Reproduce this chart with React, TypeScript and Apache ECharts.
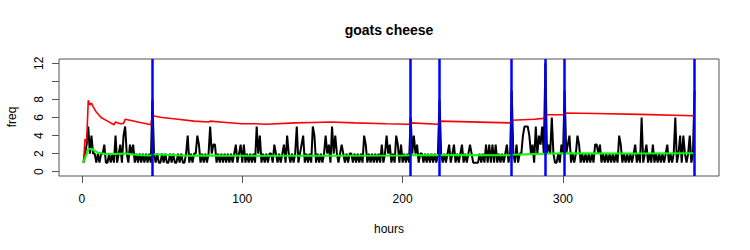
import React, { useEffect, useRef } from "react";
import * as echarts from "echarts";

const FONT = "'Liberation Sans', Arial, Helvetica, sans-serif";

const chartTitle = "goats cheese";
const xLabel = "hours";
const yLabel = "freq";

const xTicks = [0, 100, 200, 300];
const yTicks = [0, 2, 4, 6, 8, 10, 12];
const yTickLabels = [0, 2, 4, 6, 8, 12];

// hourly frequency, hours 1..382
const freq = [
  1, 2, 3, 5, 2, 4, 2, 2, 1, 2,
  1, 2, 2, 3, 1, 1, 2, 1, 2, 1,
  4, 1, 2, 3, 1, 4, 5, 2, 1, 3,
  2, 3, 1, 2, 1, 2, 1, 2, 1, 2,
  1, 2, 1, 8, 2, 1, 2, 1, 1, 2,
  1, 2, 1, 1, 2, 1, 2, 1, 1, 2,
  1, 2, 1, 1, 2, 4, 1, 2, 1, 2,
  2, 4, 3, 1, 2, 1, 2, 1, 2, 5,
  2, 3, 3, 1, 2, 1, 2, 1, 2, 1,
  2, 1, 2, 1, 2, 3, 1, 2, 3, 1,
  3, 1, 2, 1, 2, 1, 2, 1, 5, 2,
  4, 1, 2, 1, 2, 1, 2, 2, 1, 3,
  2, 1, 2, 1, 2, 3, 1, 4, 2, 1,
  2, 1, 2, 5, 1, 2, 3, 4, 1, 2,
  1, 2, 1, 5, 4, 1, 2, 1, 2, 1,
  2, 4, 2, 3, 1, 5, 2, 4, 2, 1,
  2, 3, 2, 1, 2, 1, 2, 2, 1, 2,
  1, 2, 1, 2, 1, 4, 3, 1, 2, 1,
  2, 1, 2, 1, 2, 1, 3, 1, 2, 4,
  2, 3, 1, 2, 1, 4, 3, 1, 3, 1,
  2, 1, 2, 1, 6, 2, 4, 2, 3, 1,
  2, 2, 1, 2, 1, 2, 1, 2, 1, 2,
  1, 2, 8, 2, 1, 2, 1, 2, 3, 1,
  2, 3, 1, 2, 1, 2, 3, 1, 2, 1,
  2, 3, 2, 1, 1, 1, 1, 2, 1, 2,
  1, 3, 1, 3, 1, 3, 1, 3, 1, 2,
  1, 2, 1, 2, 3, 1, 2, 9, 2, 1,
  3, 1, 2, 2, 4, 5, 5, 5, 4, 2,
  3, 1, 5, 2, 4, 3, 5, 2, 12, 2,
  3, 2, 6, 2, 1, 1, 2, 1, 3, 2,
  9, 2, 3, 4, 1, 2, 1, 2, 4, 3,
  1, 2, 1, 2, 1, 2, 1, 2, 1, 3,
  3, 2, 3, 1, 2, 1, 2, 1, 2, 1,
  2, 1, 2, 1, 4, 3, 1, 2, 1, 2,
  1, 2, 1, 2, 3, 1, 2, 1, 6, 1,
  2, 3, 1, 2, 1, 3, 1, 2, 1, 2,
  1, 2, 1, 2, 3, 1, 2, 1, 2, 6,
  1, 2, 4, 1, 4, 2, 1, 2, 4, 1, 2, 9,
];

// threshold line (red), [hour, value]
const thresholdPts: [number, number][] = [
  [1, 1.0], [2, 3.6], [3, 3.3], [4, 7.9], [5, 7.4], [6, 7.6], [7, 7.2],
  [9, 6.6], [12, 6.0], [16, 5.6], [20, 5.2], [21, 5.5], [24, 5.3],
  [26, 5.35], [27, 5.8], [30, 5.7], [35, 5.5], [43, 5.2], [44, 6.2],
  [50, 6.0], [60, 5.8], [70, 5.6], [79, 5.5], [80, 5.6], [90, 5.45],
  [100, 5.3], [108, 5.3], [115, 5.25], [133, 5.4], [144, 5.45],
  [155, 5.5], [170, 5.4], [190, 5.3], [204, 5.25], [205, 5.4],
  [222, 5.25], [223, 5.6], [267, 5.4], [268, 5.7], [282, 5.8],
  [288, 5.9], [289, 6.3], [300, 6.3], [301, 6.5], [320, 6.45],
  [348, 6.35], [381, 6.2], [382, 6.45],
];

// running mean (green), [hour, value]
const meanPts: [number, number][] = [
  [1, 1.0], [2, 1.5], [3, 2.0], [4, 2.5], [5, 2.5], [6, 2.55], [8, 2.3],
  [10, 2.1], [15, 1.95], [20, 1.95], [27, 2.0], [35, 1.85], [43, 1.8],
  [44, 1.95], [55, 1.85], [66, 1.75], [80, 1.8], [100, 1.77],
  [150, 1.75], [200, 1.78], [205, 1.82], [223, 1.85], [267, 1.82],
  [268, 1.88], [289, 1.98], [301, 2.03], [340, 2.02], [382, 2.03],
];

// flagged hours (blue verticals)
const alertHours = [44, 205, 223, 268, 289, 301, 382];

export default function App() {
  const ref = useRef<HTMLDivElement>(null);
  useEffect(() => {
    if (!ref.current) return;
    const chart = echarts.init(ref.current, null, { renderer: "svg" });
    const axisColor = "#555";
    chart.setOption({
      animation: false,
      backgroundColor: "#ffffff",
      grid: {
        left: 59,
        top: 59,
        width: 660,
        height: 117,
        outerBoundsMode: "none",
        show: true,
        borderColor: axisColor,
        borderWidth: 1,
        backgroundColor: "transparent",
      },
      xAxis: {
        type: "value",
        min: -14.24,
        max: 397.24,
        splitLine: { show: false },
        axisLine: { show: false, onZero: false },
        axisTick: {
          show: true,
          length: 7,
          lineStyle: { color: axisColor },
          customValues: xTicks,
        },
        axisLabel: {
          customValues: xTicks,
          margin: 17,
          fontSize: 12,
          color: "#000",
          fontFamily: FONT,
        },
      },
      yAxis: {
        type: "value",
        min: -0.48,
        max: 12.48,
        splitLine: { show: false },
        axisLine: { show: false, onZero: false },
        axisTick: {
          show: true,
          length: 7,
          lineStyle: { color: axisColor },
          customValues: yTicks,
        },
        axisLabel: {
          customValues: yTickLabels,
          rotate: 90,
          margin: 14,
          fontSize: 12,
          color: "#000",
          fontFamily: FONT,
        },
      },
      graphic: [
        {
          type: "text",
          x: 389,
          y: 30,
          style: {
            text: chartTitle,
            font: `bold 14px ${FONT}`,
            fill: "#000",
            textAlign: "center",
            textVerticalAlign: "middle",
          },
        },
        {
          type: "text",
          x: 389,
          y: 229,
          style: {
            text: xLabel,
            font: `12px ${FONT}`,
            fill: "#000",
            textAlign: "center",
            textVerticalAlign: "middle",
          },
        },
        {
          type: "text",
          x: 12,
          y: 117,
          rotation: Math.PI / 2,
          style: {
            text: yLabel,
            font: `12px ${FONT}`,
            fill: "#000",
            textAlign: "center",
            textVerticalAlign: "middle",
          },
        },
      ],
      series: [
        {
          type: "line",
          data: [],
          z: 1,
          markLine: {
            silent: true,
            symbol: ["none", "none"],
            label: { show: false },
            lineStyle: { color: "#0000ff", width: 2.5, type: "solid" },
            data: alertHours.map((h) => ({ xAxis: h })),
          },
        },
        {
          type: "line",
          data: freq.map((v, i) => [i + 1, v]),
          showSymbol: false,
          symbol: "none",
          z: 3,
          lineStyle: { color: "#000", width: 2 },
        },
        {
          type: "line",
          data: thresholdPts,
          showSymbol: false,
          symbol: "none",
          z: 4,
          lineStyle: { color: "#ff0000", width: 1.6 },
        },
        {
          type: "line",
          data: meanPts,
          showSymbol: false,
          symbol: "none",
          z: 4,
          lineStyle: { color: "#00ff00", width: 2 },
        },
      ],
    });
    return () => chart.dispose();
  }, []);
  return (
    <div
      ref={ref}
      style={{ position: "absolute", left: 0, top: 0, width: 750, height: 250 }}
    />
  );
}
